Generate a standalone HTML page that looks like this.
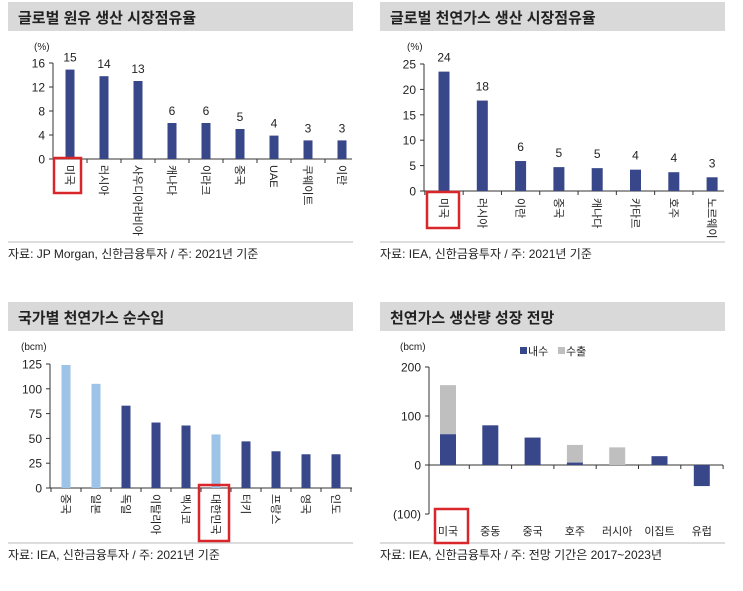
<!DOCTYPE html>
<html><head><meta charset="utf-8"><style>
body{margin:0;background:#fff;width:743px;height:586px;overflow:hidden}
svg text{font-family:"Liberation Sans","Noto Sans CJK KR",sans-serif;fill:#222}
</style></head><body>
<svg id="s" width="743" height="586" xmlns="http://www.w3.org/2000/svg"></svg>
<script>
const p1Cats=["미국","러시아","사우디아라비아","캐나다","이라크","중국","UAE","쿠웨이트","이란"];
const p1Vals=[14.9,13.8,13.0,6.0,6.0,5.0,3.9,3.1,3.1];
const p1Labels=["15","14","13","6","6","5","4","3","3"];
const p1Ticks=[0,4,8,12,16];
const p2Cats=["미국","러시아","이란","중국","캐나다","카타르","호주","노르웨이"];
const p2Vals=[23.5,17.8,5.9,4.7,4.5,4.2,3.7,2.7];
const p2Labels=["24","18","6","5","5","4","4","3"];
const p2Ticks=[0,5,10,15,20,25];
const p3Cats=["중국","일본","독일","이탈리아","멕시코","대한민국","터키","프랑스","영국","인도"];
const p3Vals=[124,105,83,66,63,54,47,37,34,34];
const p3Light=[1,1,0,0,0,1,0,0,0,0];
const p3Ticks=[0,25,50,75,100,125];
const p4Cats=["미국","중동","중국","호주","러시아","이집트","유럽"];
const p4Dom=[63,81,56,5,0,18,-43];
const p4Exp=[100,0,0,36,36,0,0];
const p4Ticks=[-100,0,100,200];
const p4TickLabels=["(100)","0","100","200"];

const S=document.getElementById('s'),NS="http://www.w3.org/2000/svg";
const DARK="#38468a",LIGHT="#9dc3e6",GRAY="#bfbfbf";
function el(t,a,txt){const e=document.createElementNS(NS,t);for(const k in a)e.setAttribute(k,a[k]);if(txt!==undefined)e.textContent=txt;S.appendChild(e);return e;}
function panel(x,y,title,foot,footY){
 const b=el('rect',{x:x,y:y,width:345,height:29,fill:"#d9d9d9"});
 
 const t=el('text',{x:x+10,y:y+21,'font-size':15,'font-weight':'bold'},title);
 
 const l=el('line',{x1:x,x2:x+345,y1:footY,y2:footY,stroke:"#bbb"});
 
 const f=el('text',{x:x,y:footY+16,'font-size':12},foot);
 
}
function yAxis(ax,x1,ys,ticks,labels,unit,ux,uy){
 const a=el('line',{x1:ax,x2:ax,y1:ys(ticks[ticks.length-1]),y2:ys(ticks[0]),stroke:"#333"});
 
 ticks.forEach((v,i)=>{
  el('line',{x1:ax-4,x2:ax,y1:ys(v),y2:ys(v),stroke:"#333"});
  const t=el('text',{x:ax-8,y:ys(v)+4.5,'font-size':12,'text-anchor':'end'},labels?labels[i]:String(v));
  
 });
 const u=el('text',{x:ux,y:uy,'font-size':10},unit);
 
}
function xAxis(ax,x1,y0,n,xs,step){
 const a=el('line',{x1:ax,x2:x1,y1:y0,y2:y0,stroke:"#333"});
 
 for(let i=0;i<=n;i++){const tx=xs(i)-step/2;if(tx>ax&&tx<x1)el('line',{x1:tx,x2:tx,y1:y0,y2:y0+4,stroke:"#333"});}
}
function rotLabel(cx,y,txt){
 const t=el('text',{x:0,y:0,'font-size':11,transform:`translate(${cx-4},${y}) rotate(90)`},txt);
 
}
function redBox(x,y,w,h){const r=el('rect',{x:x,y:y,width:w,height:h,fill:"none",stroke:"#d9262b","stroke-width":2.5});
 }

// Panel 1
panel(8,2,"글로벌 원유 생산 시장점유율","자료: JP Morgan, 신한금융투자 / 주: 2021년 기준",242);
{const y0=159,ys=v=>y0-v*6,xs=i=>70+i*34;
 yAxis(53,350,ys,p1Ticks,null,"(%)",34,50);xAxis(53,352,y0,p1Cats.length,xs,34);
 p1Vals.forEach((v,i)=>{const r=el('rect',{x:xs(i)-4.5,y:ys(v),width:9,height:y0-ys(v),fill:DARK});
  
  const t=el('text',{x:xs(i),y:ys(v)-8,'font-size':12,'text-anchor':'middle'},p1Labels[i]);
  
  rotLabel(xs(i),165,p1Cats[i]);});
 redBox(54,158,27,35);}

// Panel 2
panel(380,2,"글로벌 천연가스 생산 시장점유율","자료: IEA, 신한금융투자 / 주: 2021년 기준",242);
{const y0=191,ys=v=>y0-v*5.08,xs=i=>444+i*38.3;
 yAxis(424,722,ys,p2Ticks,null,"(%)",407,50);xAxis(424,724,y0,p2Cats.length,xs,38.3);
 p2Vals.forEach((v,i)=>{const r=el('rect',{x:xs(i)-5.5,y:ys(v),width:11,height:y0-ys(v),fill:DARK});
  
  const t=el('text',{x:xs(i),y:ys(v)-10,'font-size':12,'text-anchor':'middle'},p2Labels[i]);
  
  rotLabel(xs(i),198,p2Cats[i]);});
 redBox(427,192,32,36);}

// Panel 3
panel(8,302,"국가별 천연가스 순수입","자료: IEA, 신한금융투자 / 주: 2021년 기준",543);
{const y0=488,ys=v=>y0-v*0.992,xs=i=>66+i*30;
 yAxis(50,350,ys,p3Ticks,null,"(bcm)",21,350);xAxis(50,352,y0,p3Cats.length,xs,30);
 p3Vals.forEach((v,i)=>{const r=el('rect',{x:xs(i)-4.5,y:ys(v),width:9,height:y0-ys(v),fill:p3Light[i]?LIGHT:DARK});
  
  rotLabel(xs(i),494,p3Cats[i]);});
 redBox(199,485,30,56);}

// Panel 4
panel(380,302,"천연가스 생산량 성장 전망","자료: IEA, 신한금융투자 / 주: 전망 기간은 2017~2023년",543);
{const y0=465,ys=v=>y0-v*0.49,xs=i=>448+i*42.3;
 yAxis(429,722,ys,p4Ticks,p4TickLabels,"(bcm)",400,350);
 const a=el('line',{x1:429,x2:723,y1:y0,y2:y0,stroke:"#333"});
 for(let i=1;i<=p4Cats.length;i++)el('line',{x1:xs(i)-21,x2:xs(i)-21,y1:y0,y2:y0+4,stroke:"#333"});
 p4Cats.forEach((c,i)=>{const d=p4Dom[i],e=p4Exp[i];
  const r=el('rect',{x:xs(i)-8,y:Math.min(ys(d),y0),width:16,height:Math.abs(ys(d)-y0),fill:DARK});
  
  const base=Math.max(d,0);
  const g=el('rect',{x:xs(i)-8,y:ys(base+e),width:16,height:ys(base)-ys(base+e),fill:GRAY});
  
  const t=el('text',{x:xs(i),y:535,'font-size':11,'text-anchor':'middle'},c);
  });
 redBox(435,509,33,34);
 const l1=el('rect',{x:520,y:347,width:7,height:7,fill:DARK});
 const t1=el('text',{x:528,y:355,'font-size':11},"내수");
 const l2=el('rect',{x:558,y:347,width:7,height:7,fill:GRAY});
 const t2=el('text',{x:566,y:355,'font-size':11},"수출");
}
</script>
</body></html>
